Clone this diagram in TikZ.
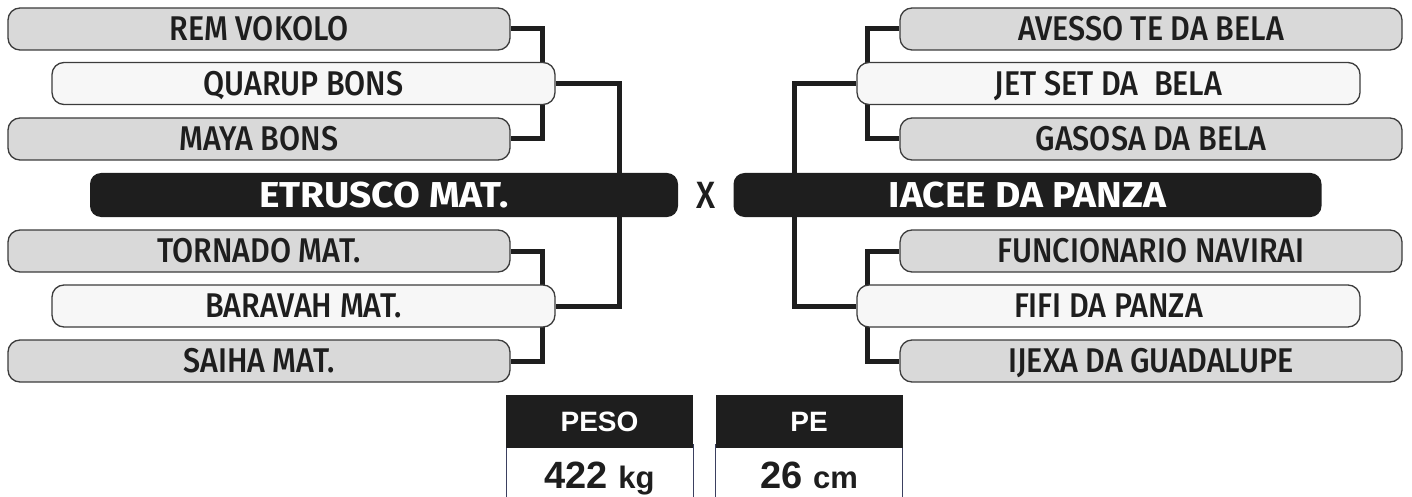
\documentclass[tikz,border=0pt]{standalone}
\usepackage{fontspec}
\setmainfont{Liberation Sans}
\newfontfamily\horsefont[FakeStretch=0.89]{Fira Sans Medium}
\newfontfamily\champfont[FakeStretch=1.08]{Fira Sans}
\usetikzlibrary{backgrounds}
\definecolor{boxgray}{HTML}{D9D9D9}
\definecolor{boxlight}{HTML}{F7F7F7}
\definecolor{ink}{HTML}{1E1E1E}
\definecolor{rim}{HTML}{3C3C3C}
\definecolor{navy}{HTML}{3B4060}
\begin{document}
\begin{tikzpicture}[x=1pt, y=-1pt,
	horse/.style={draw=rim, line width=1.3pt, rounded corners=12pt, minimum height=42pt, inner sep=0pt, text=ink, text height=23.6pt, text depth=0pt, font=\horsefont\fontsize{34.3}{34.3}\selectfont},
	dam/.style={horse, fill=boxgray, minimum width=502pt},
	sire/.style={horse, fill=boxlight, minimum width=503pt},
	champ/.style={fill=ink, rounded corners=11pt, minimum width=588pt, minimum height=44pt, inner sep=0pt, text=white, text height=24.8pt, text depth=0pt, font=\champfont\bfseries\fontsize{36}{36}\selectfont},
	link/.style={ink, line width=5pt},
	head/.style={fill=ink, minimum width=187pt, minimum height=53pt, inner sep=0pt, text=white, font=\bfseries\fontsize{28}{28}\selectfont},
	value/.style={draw=navy, line width=1pt, fill=white, minimum width=187pt, minimum height=60pt, inner sep=0pt, text=ink, text height=28pt, text depth=0pt, font=\bfseries\fontsize{38}{38}\selectfont}]
	\useasboundingbox (0,0) rectangle (1412,497);
	\node[dam] (rem) at (259, 29) {REM VOKOLO};
	\node[sire] (quarup) at (303.5, 83.5) {QUARUP BONS};
	\node[dam] (maya) at (259, 139) {MAYA BONS};
	\node[champ] (etrusco) at (384, 195) {ETRUSCO MAT.};
	\node[dam] (tornado) at (259, 251) {TORNADO MAT.};
	\node[sire] (baravah) at (303.5, 306) {BARAVAH MAT.};
	\node[dam] (saiha) at (259, 361) {SAIHA MAT.};
	\node[text=ink, text height=26pt, text depth=0pt, font=\horsefont\fontsize{38}{38}\selectfont] (versus) at (706, 195) {X};
	\node[dam] (avesso) at (1151, 29) {AVESSO TE DA BELA};
	\node[sire] (jetset) at (1108.5, 83.5) {JET SET DA\ \ BELA};
	\node[dam] (gasosa) at (1151, 139) {GASOSA DA BELA};
	\node[champ] (iacee) at (1027.5, 195) {IACEE DA PANZA};
	\node[dam] (funcionario) at (1151, 251) {FUNCIONARIO NAVIRAI};
	\node[sire] (fifi) at (1108.5, 306) {FIFI DA PANZA};
	\node[dam] (ijexa) at (1151, 361) {IJEXA DA GUADALUPE};
	\begin{scope}[on background layer]
		\draw[link] (rem.east) -- ++(32, 0) |- (maya.east);
		\draw[link] (tornado.east) -- ++(32, 0) |- (saiha.east);
		\draw[link] (quarup.east) -- ++(64, 0) |- (baravah.east);
		\draw[link] (avesso.west) -- ++(-32, 0) |- (gasosa.west);
		\draw[link] (funcionario.west) -- ++(-32, 0) |- (ijexa.west);
		\draw[link] (jetset.west) -- ++(-62, 0) |- (fifi.west);
	\end{scope}
	\node[value] (weight) at (599.5, 474) {422 {\fontsize{31}{31}\selectfont kg}};
	\node[head] (weighthead) at (599.5, 421.5) {PESO};
	\node[value] (height) at (809, 474) {26 {\fontsize{31}{31}\selectfont cm}};
	\node[head] (heighthead) at (809, 421.5) {PE};
\end{tikzpicture}
\end{document}
